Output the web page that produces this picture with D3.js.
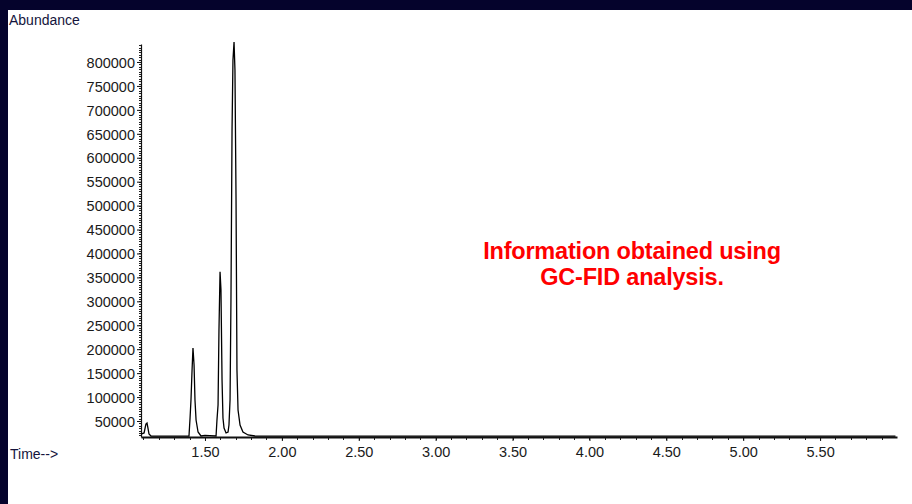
<!DOCTYPE html>
<html>
<head>
<meta charset="utf-8">
<script src="https://cdn.jsdelivr.net/npm/d3@7"></script>
<style>
  html, body { margin: 0; padding: 0; background: #ffffff; }
  svg { display: block; }
</style>
</head>
<body>
<svg id="chart" width="912" height="504"></svg>
<script>
// ---- data ----
const time = [1.084, 1.104, 1.116, 1.123, 1.129, 1.136, 1.149, 1.200, 1.300, 1.396,
  1.403, 1.409, 1.416, 1.422, 1.429, 1.435, 1.442, 1.455, 1.474, 1.500, 1.530, 1.572,
  1.578, 1.585, 1.591, 1.598, 1.604, 1.611, 1.617, 1.624, 1.637, 1.650, 1.656, 1.663,
  1.669, 1.676, 1.682, 1.689, 1.695, 1.702, 1.708, 1.715, 1.728, 1.747, 1.780, 1.825,
  1.900, 2.200, 2.600, 3.000, 3.500, 4.000, 4.500, 5.000, 5.500, 5.990];
const abundance = [22800, 25000, 43700, 45800, 35400, 22800, 18700, 18500, 18500, 18700,
  56300, 93900, 156600, 202500, 167000, 93900, 52100, 27000, 18700, 20000, 19500, 18700,
  52100, 83400, 240000, 361700, 324000, 135700, 56300, 35400, 25000, 27000, 41600, 93900,
  302800, 658000, 804000, 841800, 783000, 511500, 156600, 73000, 41600, 27000, 20800, 18700,
  18500, 18500, 18500, 18500, 18500, 18500, 18500, 18500, 18500, 18500];
const yTicks = [50000, 100000, 150000, 200000, 250000, 300000, 350000, 400000,
  450000, 500000, 550000, 600000, 650000, 700000, 750000, 800000];
const xTicks = [1.5, 2.0, 2.5, 3.0, 3.5, 4.0, 4.5, 5.0, 5.5];
const xTickLabels = ["1.50", "2.00", "2.50", "3.00", "3.50", "4.00", "4.50", "5.00", "5.50"];
const yAxisTitle = "Abundance";
const xAxisTitle = "Time-->";
const noteLines = ["Information obtained using", "GC-FID analysis."];

// ---- layout ----
const svg = d3.select("#chart");
const W = 912, H = 504;
const x = d3.scaleLinear().domain([1.084, 6.0]).range([141, 897]);
const y = d3.scaleLinear().domain([16574, 837604]).range([437, 44]);

// dark frame (top & left)
svg.append("rect").attr("x", 0).attr("y", 0).attr("width", W).attr("height", 10).attr("fill", "#05032c");
svg.append("rect").attr("x", 0).attr("y", 0).attr("width", 8).attr("height", H).attr("fill", "#05032c");

const fontAxis = "'Liberation Sans', Arial, sans-serif";

// y-axis
const minorY = d3.range(20000, 837604, 5000);
const yAxisG = svg.append("g").attr("transform", "translate(141,0)");
yAxisG.selectAll("line.minor").data(minorY).join("line")
  .attr("x1", -2).attr("x2", 0)
  .attr("y1", d => Math.round(y(d)) + 0.5).attr("y2", d => Math.round(y(d)) + 0.5)
  .attr("stroke", "#222").attr("stroke-width", 1);
const yAxis = d3.axisLeft(y).tickValues(yTicks).tickSize(4).tickSizeOuter(0).tickPadding(2)
  .tickFormat(d3.format("d"));
yAxisG.call(yAxis);
yAxisG.select(".domain").attr("stroke", "#111").attr("stroke-width", 1.2);
yAxisG.selectAll(".tick line").attr("stroke", "#111");
yAxisG.selectAll(".tick text").attr("font-family", fontAxis).attr("font-size", "14.5px")
  .attr("fill", "#1a1a1a").attr("dy", "0.36em");

// x-axis
const minorX = d3.range(1.1, 5.95, 0.1);
const xAxisG = svg.append("g").attr("transform", "translate(0,437)");
xAxisG.selectAll("line.minor").data(minorX).join("line")
  .attr("x1", d => Math.round(x(d)) + 0.5).attr("x2", d => Math.round(x(d)) + 0.5)
  .attr("y1", 0).attr("y2", 3)
  .attr("stroke", "#222").attr("stroke-width", 1);
const xAxis = d3.axisBottom(x).tickValues(xTicks).tickSize(4).tickSizeOuter(0).tickPadding(6)
  .tickFormat((d, i) => xTickLabels[i]);
xAxisG.call(xAxis);
xAxisG.select(".domain").attr("stroke", "#111").attr("stroke-width", 2);
xAxisG.selectAll(".tick line").attr("stroke", "#111");
xAxisG.selectAll(".tick text").attr("font-family", fontAxis).attr("font-size", "14.5px")
  .attr("fill", "#1a1a1a");

// trace
const line = d3.line().x((d, i) => x(time[i])).y((d, i) => y(abundance[i]));
svg.append("path").datum(abundance)
  .attr("d", line)
  .attr("fill", "none").attr("stroke", "#000").attr("stroke-width", 1.3)
  .attr("stroke-linejoin", "miter");

// axis titles
svg.append("text").attr("x", 9).attr("y", 25).text(yAxisTitle)
  .attr("font-family", fontAxis).attr("font-size", "14px").attr("fill", "#14143c");
svg.append("text").attr("x", 10).attr("y", 459).text(xAxisTitle)
  .attr("font-family", fontAxis).attr("font-size", "14px").attr("fill", "#14143c");

// red annotation
svg.append("g").selectAll("text").data(noteLines).join("text")
  .attr("x", 632).attr("y", (d, i) => 259 + i * 26)
  .attr("text-anchor", "middle")
  .attr("font-family", "'Liberation Sans', Arial, sans-serif")
  .attr("font-weight", "bold").attr("font-size", "23.5px")
  .attr("letter-spacing", "-0.2px")
  .attr("fill", "#ff0000")
  .text(d => d);
</script>
</body>
</html>
